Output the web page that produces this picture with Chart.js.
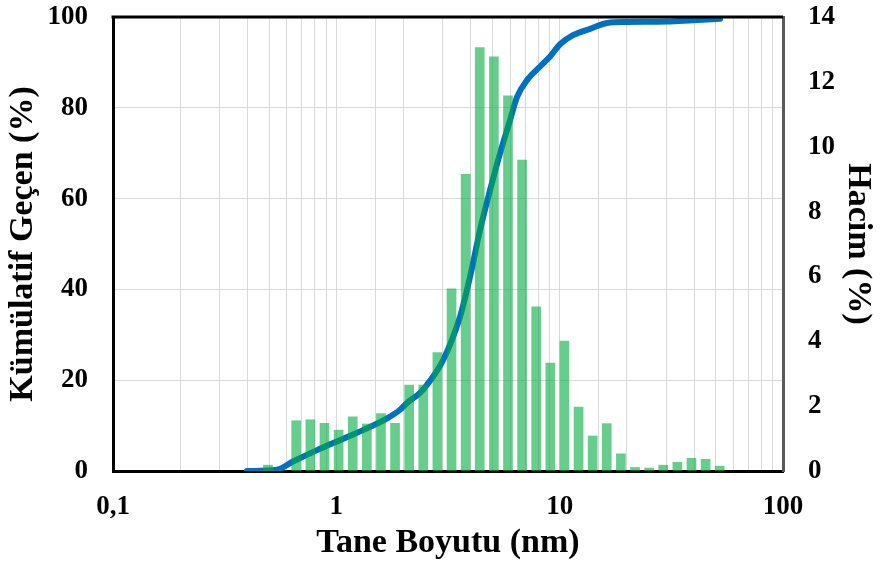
<!DOCTYPE html>
<html>
<head>
<meta charset="utf-8">
<script src="https://cdn.jsdelivr.net/npm/chart.js@4/dist/chart.umd.min.js"></script>
<style>
  html, body { margin: 0; padding: 0; background: #fff; }
  #wrap { width: 881px; height: 569px; position: relative; }
</style>
</head>
<body>
<div id="wrap"><canvas id="myChart"></canvas></div>
<script>
// particle size bins (nm) and volume (%) per bin
const binSizes = [0.494, 0.572, 0.661, 0.765, 0.885, 1.024, 1.184, 1.370, 1.584, 1.832,
    2.119, 2.451, 2.835, 3.280, 3.794, 4.387, 5.075, 5.870, 6.789, 7.852,
    9.082, 10.50, 12.15, 14.05, 16.25, 18.80, 21.75, 25.15, 29.09, 33.65,
    38.92, 45.02, 52.07];
const binVolume = [0.18, 0, 1.55, 1.58, 1.47, 1.26, 1.67, 1.45, 1.77, 1.47,
    2.65, 2.65, 3.65, 5.62, 9.15, 13.06, 12.77, 11.57, 9.59, 5.06,
    3.33, 4.01, 1.97, 1.08, 1.46, 0.53, 0.11, 0.09, 0.18, 0.27,
    0.39, 0.36, 0.15];

// cumulative passing curve
const cumSizes = [0.398, 0.543, 0.640, 0.820, 1.039, 1.317, 1.687, 1.929, 2.073, 2.370,
    2.548, 3.005, 3.581, 3.971, 4.400, 4.880, 5.409, 5.997, 6.446, 7.145,
    8.171, 9.058, 10.04, 11.48, 13.68, 16.30, 20.04, 30.27, 39.55, 52.24];
const cumPassing = [0, 0.3, 2.1, 4.6, 6.8, 9.0, 11.6, 13.5, 15.0, 17.2,
    19.0, 24.4, 34.0, 42.8, 53.1, 61.9, 70.0, 77.3, 82.4, 86.1,
    89.1, 91.3, 94.0, 96.0, 97.4, 98.7, 98.9, 99.0, 99.3, 99.6];

const xTickLabels = { "0.1": "0,1", "1": "1", "10": "10", "100": "100" };

const GREEN = "rgba(0, 172, 63, 0.6)";
const BLUE = "rgb(0, 112, 192)";
const GRID = "rgb(217, 217, 217)";

Chart.defaults.font.family = "'Liberation Serif', 'Times New Roman', serif";
Chart.defaults.font.weight = "bold";
Chart.defaults.color = "#000";

let barPoints = binSizes.map((s, i) => ({ x: s, y: binVolume[i] }));
let linePoints = cumSizes.map((s, i) => ({ x: s, y: cumPassing[i] }));

// no extra room for half tick labels, keep plot box fixed
let fitBox = (s, key, size) => {
    s[key] = size;
    s.paddingTop = 0;
    s.paddingBottom = 0;
    s.paddingLeft = 0;
    s.paddingRight = 0;
};

const topBorder = {
    id: "topBorder",
    afterDraw(chart) {
        const { ctx, chartArea } = chart;
        ctx.save();
        ctx.strokeStyle = "#000";
        ctx.lineWidth = 3;
        ctx.beginPath();
        ctx.moveTo(chartArea.left - 1.5, chartArea.top);
        ctx.lineTo(chartArea.right, chartArea.top);
        ctx.stroke();
        ctx.restore();
    }
};

const config = {
    type: "bar",
    data: {
        datasets: [{
            type: "bar",
            label: "Hacim",
            data: barPoints,
            yAxisID: "y1",
            backgroundColor: GREEN,
            barThickness: 9
        }, {
            type: "line",
            label: "Kümülatif",
            data: linePoints,
            yAxisID: "y",
            borderColor: BLUE,
            borderWidth: 6,
            pointRadius: 0,
            cubicInterpolationMode: "monotone",
            borderCapStyle: "round",
            borderJoinStyle: "round",
            fill: false
        }]
    },
    plugins: [topBorder],
    options: {
        responsive: true,
        maintainAspectRatio: false,
        animation: false,
        layout: { padding: { top: 17, left: 0, right: 0, bottom: 0 } },
        plugins: { legend: { display: false }, tooltip: { enabled: false } },
        scales: {
            x: {
                type: "logarithmic",
                min: 0.1,
                max: 100,
                offset: false,
                grid: { color: GRID, offset: false, drawTicks: false },
                border: { color: "#000", width: 3 },
                ticks: {
                    autoSkip: false,
                    maxRotation: 0,
                    padding: 20,
                    font: { size: 27 },
                    callback: v => xTickLabels[String(v)] || ""
                },
                title: {
                    display: true,
                    text: "Tane Boyutu (nm)",
                    font: { size: 34 },
                    padding: { top: 0, bottom: 5 }
                },
                afterFit: s => fitBox(s, "height", 98)
            },
            y: {
                position: "left",
                min: 0,
                max: 100,
                grid: { color: GRID, drawTicks: false },
                border: { color: "#000", width: 3 },
                ticks: { stepSize: 20, padding: 25, font: { size: 27 } },
                title: {
                    display: true,
                    text: "Kümülatif Geçen (%)",
                    font: { size: 34 },
                    padding: { top: 3, bottom: 0 }
                },
                afterFit: s => fitBox(s, "width", 113)
            },
            y1: {
                position: "right",
                min: 0,
                max: 14,
                grid: { display: false, drawTicks: false },
                border: { color: "#595959", width: 3 },
                ticks: { stepSize: 2, padding: 25, font: { size: 27 } },
                title: {
                    display: true,
                    text: "Hacim (%)",
                    font: { size: 34 },
                    padding: { top: 3, bottom: 0 }
                },
                afterFit: s => fitBox(s, "width", 98)
            }
        }
    }
};

var myChart = new Chart(document.getElementById("myChart"), config);
</script>
</body>
</html>
